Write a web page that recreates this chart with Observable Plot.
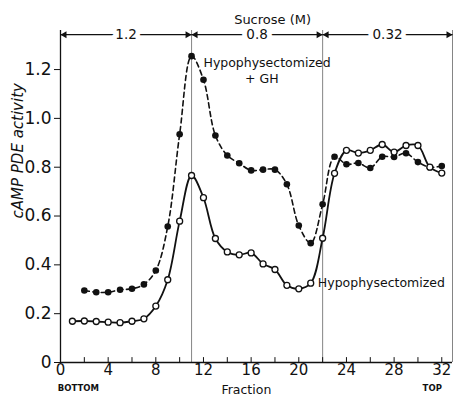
<!DOCTYPE html>
<html>
<head>
<meta charset="utf-8">
<script src="https://cdn.jsdelivr.net/npm/d3@7"></script>
<script src="https://cdn.jsdelivr.net/npm/@observablehq/plot@0.6"></script>
<style>
  html, body { margin: 0; padding: 0; background: #fff; }
  svg { display: block; }
</style>
</head>
<body>
<div id="chart"></div>
<script>
// Fractions and activities
const ghFractions = [2,3,4,5,6,7,8,9,10,11,12,13,14,15,16,17,18,19,20,21,22,23,24,25,26,27,28,29,30,31,32];
const ghValues = [0.295,0.288,0.288,0.298,0.302,0.32,0.377,0.557,0.935,1.255,1.158,0.93,0.848,0.816,0.787,0.79,0.79,0.73,0.561,0.489,0.648,0.843,0.812,0.817,0.797,0.843,0.842,0.857,0.821,0.80,0.805];

const hypoFractions = [1,2,3,4,5,6,7,8,9,10,11,12,13,14,15,16,17,18,19,20,21,22,23,24,25,26,27,28,29,30,31,32];
const hypoValues = [0.169,0.17,0.168,0.165,0.163,0.169,0.179,0.231,0.339,0.579,0.766,0.675,0.508,0.453,0.441,0.449,0.404,0.381,0.316,0.302,0.325,0.509,0.775,0.869,0.858,0.869,0.893,0.862,0.889,0.889,0.80,0.776];

const sucroseLabels = ["1.2", "0.8", "0.32"];
const sucroseStart = [0, 11, 22];
const sucroseEnd = [11, 22, 32.9];

const yTicks = [0, 0.2, 0.4, 0.6, 0.8, 1.0, 1.2];
const xTickLabels = [0, 4, 8, 12, 16, 20, 24, 28, 32];
const xMinorTicks = d3.range(0, 33, 2);

const gh = ghFractions.map((f, i) => ({f, v: ghValues[i]}));
const hypo = hypoFractions.map((f, i) => ({f, v: hypoValues[i]}));
const segs = sucroseLabels.map((label, i) => ({label, x1: sucroseStart[i], x2: sucroseEnd[i], mid: (sucroseStart[i] + sucroseEnd[i]) / 2}));

const FONT = "DejaVu Sans";
const TOPY = 1.343;

const chart = Plot.plot({
  width: 453,
  height: 397,
  marginLeft: 60,
  marginRight: 1,
  marginTop: 30,
  marginBottom: 35,
  style: {fontFamily: FONT, background: "#fff", color: "#111"},
  x: {domain: [0, 32.9]},
  y: {domain: [0, 1.36]},
  marks: [
    // boundaries
    Plot.ruleX([11, 22, 32.9], {y1: 0, y2: 1.36, stroke: "#777", strokeWidth: 0.9}),
    Plot.ruleX([0], {y1: 0, y2: 1.36, stroke: "#111", strokeWidth: 1.3}),
    Plot.ruleY([0], {stroke: "#111", strokeWidth: 1.6}),
    // x minor/major ticks pointing inward
    Plot.ruleX(xMinorTicks, {y1: 0, y2: 0.02, stroke: "#111", strokeWidth: 1}),
    Plot.axisX({ticks: xTickLabels, tickSize: 0, tickPadding: 2, fontSize: 15, label: null, tickFormat: d => String(d)}),
    Plot.axisY({ticks: yTicks, tickSize: 6, tickPadding: 3, fontSize: 17, label: null, tickFormat: d => d === 0 ? "0" : d.toFixed(1)}),
    // sucrose arrows
    Plot.link(segs, {x1: "x1", x2: "x2", y1: TOPY, y2: TOPY, stroke: "#111", strokeWidth: 1.2}),
    Plot.dot(segs, {x: "x1", y: TOPY, symbol: "triangle", r: 2.6, fill: "#111", rotate: -90, dx: 4}),
    Plot.dot(segs, {x: "x2", y: TOPY, symbol: "triangle", r: 2.6, fill: "#111", rotate: 90, dx: -4}),
    Plot.text(segs, {x: "mid", y: TOPY, text: "label", fontSize: 13.5, fill: "#111", stroke: "#fff", strokeWidth: 10, paintOrder: "stroke"}),
    Plot.text(["Sucrose (M)"], {x: 17.8, frameAnchor: "top", dy: -16, fontSize: 13, fill: "#111"}),
    // curves
    Plot.line(gh, {x: "f", y: "v", curve: "catmull-rom", stroke: "#111", strokeWidth: 1.6, strokeDasharray: "5,3.5"}),
    Plot.line(hypo, {x: "f", y: "v", curve: "catmull-rom", stroke: "#111", strokeWidth: 1.8}),
    Plot.dot(gh, {x: "f", y: "v", r: 3.3, fill: "#111", stroke: "none"}),
    Plot.dot(hypo, {x: "f", y: "v", r: 3, fill: "#fff", stroke: "#111", strokeWidth: 1.3}),
    // annotations
    Plot.text(["Hypophysectomized"], {x: 12.0, y: 1.228, textAnchor: "start", fontSize: 12.5, fill: "#111"}),
    Plot.text(["+ GH"], {x: 16.9, y: 1.163, fontSize: 12.5, fill: "#111"}),
    Plot.text(["Hypophysectomized"], {x: 21.6, y: 0.326, textAnchor: "start", fontSize: 12.5, fill: "#111"}),
    // axis titles
    Plot.text(["cAMP PDE activity"], {frameAnchor: "left", dx: -42, y: 0.59, rotate: -90, fontSize: 15, fontStyle: "italic", fill: "#111"}),
    Plot.text(["Fraction"], {x: 15.6, frameAnchor: "bottom", dy: 31, lineAnchor: "bottom", fontSize: 12.5, fill: "#111"}),
    Plot.text(["BOTTOM"], {x: 1.5, frameAnchor: "bottom", dy: 28, fontSize: 8.5, fontWeight: "bold", fill: "#111", letterSpacing: "1px"}),
    Plot.text(["TOP"], {x: 31.2, frameAnchor: "bottom", dy: 28, fontSize: 8.5, fontWeight: "bold", fill: "#111", letterSpacing: "1px"})
  ]
});
document.getElementById("chart").appendChild(chart);
</script>
</body>
</html>
